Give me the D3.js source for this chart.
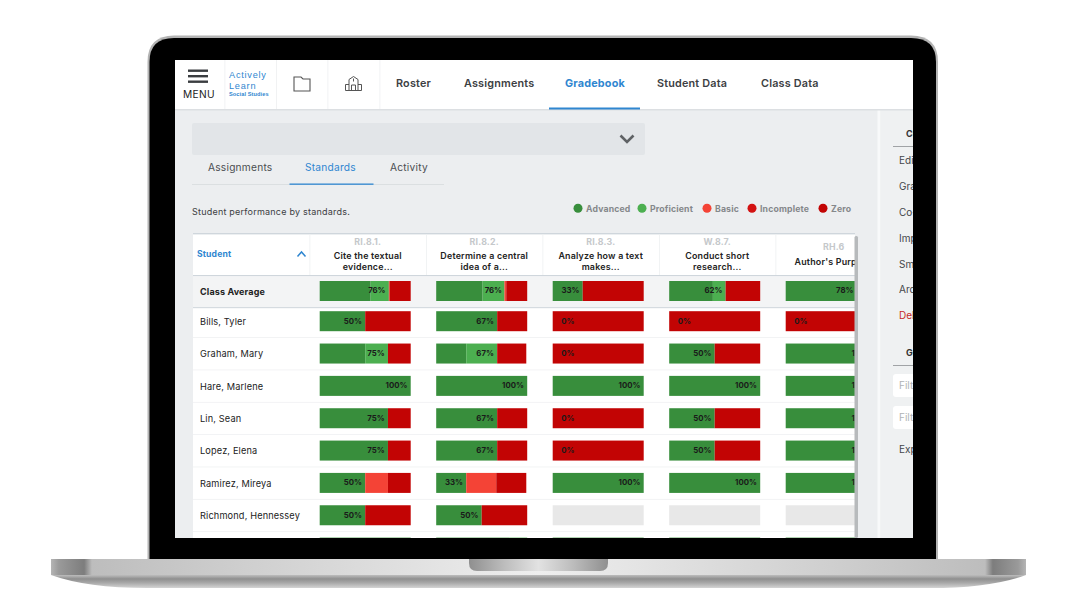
<!DOCTYPE html>
<html><head><meta charset="utf-8">
<script src="https://cdn.jsdelivr.net/npm/d3@7"></script>
<style>
html,body{margin:0;padding:0;background:#fff;overflow:hidden}
svg{display:block}
text{font-family:"Inter","Open Sans",sans-serif}
text.logo{font-family:"Liberation Sans",sans-serif}
</style></head><body>
<script>
const students=["Class Average","Bills, Tyler","Graham, Mary","Hare, Marlene","Lin, Sean","Lopez, Elena","Ramirez, Mireya","Richmond, Hennessey",""];
const standardCodes=["RI.8.1.","RI.8.2.","RI.8.3.","W.8.7.","RH.6"];
const standardTitles=[["Cite the textual","evidence..."],["Determine a central","idea of a..."],["Analyze how a text","makes..."],["Conduct short","research..."],["Author's Purpose"]];
const levels=["Advanced","Proficient","Basic","Incomplete","Zero"];
const levelColors=["#388e3c","#4caf50","#f44336","#d31212","#c20404"];
const advanced=[[56,51,33,48,78],[50,67,0,0,0],[50,33,0,50,100],[100,100,100,100,100],[75,67,0,50,100],[75,67,0,50,100],[50,33,100,100,100],[50,50,0,0,0],[100,80,100,100,100]];
const proficient=[[20,24,0,14,0],[0,0,0,0,0],[25,34,0,0,0],[0,0,0,0,0],[0,0,0,0,0],[0,0,0,0,0],[0,0,0,0,0],[0,0,0,0,0],[0,20,0,0,0]];
const basic=[[1,2,0,0,0],[0,0,0,0,0],[0,0,0,0,0],[0,0,0,0,0],[0,0,0,0,0],[0,0,0,0,0],[25,33,0,0,0],[0,0,0,0,0],[0,0,0,0,0]];
const incomplete=[[0,0,0,0,0],[0,0,0,0,0],[0,0,0,0,0],[0,0,0,0,0],[0,0,0,0,0],[0,0,0,0,0],[0,0,0,0,0],[0,0,0,0,0],[0,0,0,0,0]];
const zero=[[23,23,67,38,22],[50,33,100,100,100],[25,32,100,50,0],[0,0,0,0,0],[25,33,100,50,0],[25,33,100,50,0],[25,33,0,0,0],[50,50,0,0,0],[0,0,0,0,0]];
const scores=[[76,76,33,62,78],[50,67,0,0,0],[75,67,0,50,100],[100,100,100,100,100],[75,67,0,50,100],[75,67,0,50,100],[50,33,100,100,100],[50,50,null,null,null],[100,100,100,100,100]];
const navItems=["Roster","Assignments","Gradebook","Student Data","Class Data"];
const tabItems=["Assignments","Standards","Activity"];
const sideItems=["Edit","Grade","Co-teach","Import","Smart","Archive","Delete"];

const W=1076,H=606;
const svg=d3.select("body").append("svg").attr("width",W).attr("height",H).attr("viewBox",`0 0 ${W} ${H}`);
const defs=svg.append("defs");
function grad(id,stops,vertical){
  const g=defs.append("linearGradient").attr("id",id).attr("x1",0).attr("y1",0).attr("x2",vertical?0:1).attr("y2",vertical?1:0);
  stops.forEach(s=>g.append("stop").attr("offset",s[0]).attr("stop-color",s[1]));
}
grad("baseTop",[[0,"#b5b5b5"],[.008,"#9a9a9a"],[.034,"#7d7d7d"],[.042,"#bdbdbd"],[.2,"#cfcfcf"],[.42,"#e6e6e6"],[.5,"#eeeeee"],[.6,"#e4e4e4"],[.8,"#cfcfcf"],[.958,"#bdbdbd"],[.966,"#7d7d7d"],[.992,"#9a9a9a"],[1,"#b5b5b5"]]);
grad("baseLow",[[0,"#bdbdbd"],[.3,"#8f8f8f"],[.6,"#a8a8a8"],[1,"#d4d4d4"]],true);
grad("notch",[[0,"#8f8f8f"],[.25,"#bcbcbc"],[.5,"#e2e2e2"],[.75,"#bcbcbc"],[1,"#8f8f8f"]]);
const clip=(id,x,y,w,h)=>defs.append("clipPath").attr("id",id).append("rect").attr("x",x).attr("y",y).attr("width",w).attr("height",h);
clip("screen",175,60,738,478);
clip("table",193,233,662,305);

const rect=(p,x,y,w,h,f,r)=>p.append("rect").attr("x",x).attr("y",y).attr("width",w).attr("height",h).attr("fill",f).attr("rx",r||0);
const txt=(p,x,y,s,size,fill,weight,anchor,ls)=>p.append("text").attr("x",x).attr("y",y).attr("dy","0.35em").attr("font-size",size).attr("fill",fill).attr("font-weight",weight||400).attr("text-anchor",anchor||"start").attr("letter-spacing",ls||0).text(s);

// laptop
svg.append("path").attr("d","M147.5 560V62Q147.5 35.5 174 35.5H911Q938 35.5 938 62V560Z").attr("fill","#b4b4b4");
svg.append("path").attr("d","M149.5 560V62Q149.5 38 174 38H911Q936 38 936 62V560Z").attr("fill","#000");
rect(svg,51,559,975,16,"url(#baseTop)");
svg.append("path").attr("d","M51 575H1026Q990 588 930 588H147Q87 588 51 575Z").attr("fill","url(#baseLow)");
svg.append("path").attr("d","M469 559H608V563Q608 571 600 571H477Q469 571 469 563Z").attr("fill","url(#notch)");

const screen=svg.append("g").attr("clip-path","url(#screen)");
rect(screen,175,60,738,478,"#eceef0");
rect(screen,877.5,110,3,428,"#f8f9fa");
rect(screen,880.5,110,33,428,"#eff1f2");
// header
rect(screen,175,60,738,49,"#fff");
rect(screen,175,109,738,1.5,"#dcdfe2");
[224.5,276,327.5,379.5].forEach(x=>rect(screen,x,60,.8,49,"#eeeff1"));
[69.5,75,80.5].forEach(y=>rect(screen,188,y,20,2.4,"#3a3d40"));
txt(screen,183,94.5,"MENU",10.2,"#222",400,"start",.3);
txt(screen,229,74.7,"Actively",9.2,"#2f86d0",400,"start",.75).attr("class","logo");
txt(screen,229,85.3,"Learn",9.2,"#2f86d0",400,"start",.75).attr("class","logo");
txt(screen,229,94,"Social Studies",5.6,"#2f86d0",700,"start",.1).attr("class","logo");
screen.append("path").attr("d","M294 91V77H301L303 79H310V91Z").attr("fill","none").attr("stroke","#555").attr("stroke-width",1.1);
screen.append("path").attr("d","M345.5 90.5V84.5H349M358 84.5H361.5V90.5M349 90.5V79.5L353.5 76.5L358 79.5V90.5M345.5 90.5H361.5M351.5 90.5V85H355.5V90.5M353.5 78.5V81.5").attr("fill","none").attr("stroke","#555").attr("stroke-width",1);
const navX=[396,464,565,657,761];
navItems.forEach((n,i)=>txt(screen,navX[i],83.7,n,10.8,i==2?"#2f86d0":"#3c4043",i==2?700:600,"start",.2));
rect(screen,549,107.5,91,2,"#2f86d0");
// dropdown + tabs
rect(screen,192,123,453,32,"#e2e5e8",2);
screen.append("path").attr("d","M620.5 135.5L627 142L633.5 135.5").attr("fill","none").attr("stroke","#5f6265").attr("stroke-width",2.6);
const tabX=[208,305,390];
tabItems.forEach((n,i)=>txt(screen,tabX[i],167.5,n,10.2,i==1?"#2f86d0":"#4a4d50",400,"start",.22));
rect(screen,192,184,252,.8,"#d8dbde");
rect(screen,289.5,183.5,84,1.3,"#2f86d0");
txt(screen,192,212,"Student performance by standards.",9,"#3c4043",400,"start",.22);
// legend
const legendCX=[578,642,707,752,823];
levels.forEach((l,i)=>{
  screen.append("circle").attr("cx",legendCX[i]).attr("cy",208.3).attr("r",4.5).attr("fill",levelColors[i]);
  txt(screen,legendCX[i]+8,209.3,l,8.7,"#85888b",700,"start",.16);
});
// side panel
txt(screen,906,134,"Class",9,"#333",700);
rect(screen,893,146,20,.8,"#8d9093");
const sideY=[160,186,212,238,264,289,315];
sideItems.forEach((s,i)=>txt(screen,899,sideY[i],s,10,i==6?"#c62828":"#44474a"));
txt(screen,906,353,"Group",9,"#333",700);
rect(screen,893,365,20,.8,"#8d9093");
[[374,23],[406,23]].forEach(b=>{rect(screen,893,b[0],30,b[1],"#fff",3);txt(screen,899,b[0]+11.5,"Filter",10,"#b0b3b6");});
txt(screen,899,449,"Export",10,"#44474a");

// table
const x=d3.scaleBand().domain(standardCodes).range([309.5,892]);
const pct=d3.scaleLinear().domain([0,100]).range([0,91]);
const y=d3.scalePoint().domain(students.slice(1)).range([321.2,547.6]);
const rowCY=s=>s===students[0]?291:y(s);
const table=screen.append("g").attr("clip-path","url(#table)");
rect(table,193,233,662,305,"#fff");
rect(table,193,233,662,1.4,"#cfd6dc");
rect(table,193,275,662,1.4,"#cfd6dc");
rect(table,193,276.4,662,30.6,"#f3f4f5");
rect(table,193,307,662,1.2,"#d5dbe0");
students.slice(1).forEach(s=>rect(table,193,y(s)+16,662,.8,"#eff0f2"));
x.domain().forEach(c=>rect(table,x(c),234,.8,41,"#eef0f2"));
txt(table,197,254.3,"Student",8.6,"#2f86d0",700,"start",.15);
table.append("path").attr("d","M297.5 256.5L301.5 252L305.5 256.5").attr("fill","none").attr("stroke","#2f86d0").attr("stroke-width",1.5);
standardCodes.forEach((c,i)=>{
  const cx=x(c)+x.bandwidth()/2, t=standardTitles[i];
  txt(table,cx,t.length==1?247:241.5,c,8.8,"#c5c8cb",700,"middle",.2);
  t.forEach((l,j)=>txt(table,cx,(t.length==1?261.5:256.3)+j*11,l,8.9,"#222",600,"middle",.2));
});
const stack=d3.stack().keys(levels);
const barInset=10.2;
students.forEach((s,r)=>{
  const cy=rowCY(s);
  if(s) txt(table,200,cy+.7,s,r==0?9:9.2,"#222",r==0?700:400,"start",.15);
  const cells=standardCodes.map((c,i)=>({code:c,Advanced:advanced[r][i],Proficient:proficient[r][i],Basic:basic[r][i],Incomplete:incomplete[r][i],Zero:zero[r][i]}));
  const g=table.append("g");
  standardCodes.forEach((c,i)=>{
    if(scores[r][i]===null) rect(g,x(c)+barInset,cy-10,91,20,"#e8e8e8");
  });
  stack(cells).forEach((layer,k)=>{
    g.selectAll(null).data(layer).join("rect")
      .attr("x",d=>x(d.data.code)+barInset+pct(d[0]))
      .attr("y",cy-10).attr("height",20)
      .attr("width",d=>pct(d[1])-pct(d[0]))
      .attr("fill",levelColors[k]);
  });
  standardCodes.forEach((c,i)=>{
    const v=scores[r][i];
    if(v===null) return;
    txt(g,x(c)+barInset+pct(Math.max(v,27.5))-3.3,cy-.3,v+"%",7.8,"#1a1a1a",700,"end");
  });
});
rect(screen,854.5,236,3.5,302,"#b7babc",1.5);
</script>
</body></html>
